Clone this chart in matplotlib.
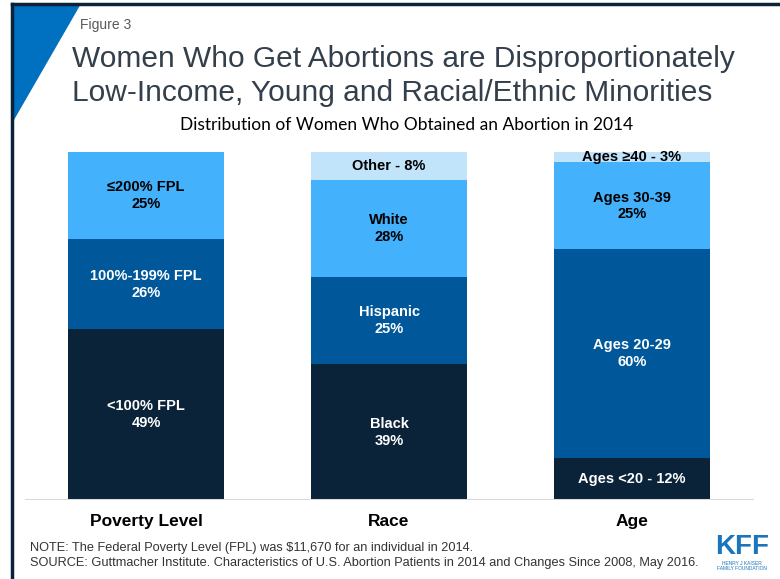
import matplotlib
matplotlib.use("Agg")
from matplotlib import pyplot as plt
from matplotlib.patches import Polygon

plt.rcParams['font.family'] = ['Liberation Sans', 'DejaVu Sans']

# Data
groups = ["Poverty Level", "Race", "Age"]
poverty_labels = ["<100% FPL", "100%-199% FPL", "\u2264200% FPL"]
poverty_values = [49, 26, 25]
race_labels = ["Black", "Hispanic", "White", "Other"]
race_values = [39, 25, 28, 8]
age_labels = ["Ages <20", "Ages 20-29", "Ages 30-39", "Ages \u226540"]
age_values = [12, 60, 25, 3]

dark = "#0a2339"
mid = "#00589a"
light = "#43b1fb"
pale = "#c2e4fb"

stacks = [
    (poverty_labels, poverty_values, [dark, mid, light], [False, False, False]),
    (race_labels, race_values, [dark, mid, light, pale], [False, False, False, True]),
    (age_labels, age_values, [dark, mid, light, pale], [True, False, False, True]),
]

W, H = 780, 579
fig = plt.figure(figsize=(7.8, 5.79), dpi=100)

# frame and corner triangle
fig.add_artist(plt.Line2D([12 / W, 1], [1 - 4 / H, 1 - 4 / H], color=dark, lw=2.5))
fig.add_artist(plt.Line2D([12 / W, 12 / W], [0, 1 - 4 / H], color=dark, lw=2.5))
fig.add_artist(Polygon([[12 / W, 1 - 4 / H], [80 / W, 1 - 4 / H], [12 / W, 1 - 122 / H]],
                       closed=True, color="#0070c0", transform=fig.transFigure))

fig.text(80 / W, 1 - 25 / H, "Figure 3", fontsize=10, color="#595959", va="center")
fig.text(72 / W, 1 - 76 / H,
         "Women Who Get Abortions are Disproportionately\nLow-Income, Young and Racial/Ethnic Minorities",
         fontsize=21.5, color="#333f4b", va="center", linespacing=1.25)
fig.text(407 / W, 1 - 125 / H, "Distribution of Women Who Obtained an Abortion in 2014",
         fontsize=12.5, ha="center", va="center", family=["Lato", "DejaVu Sans"])

# bar chart
ax = fig.add_axes([24.5 / W, 1 - 500 / H, 729 / W, 348 / H])
bar_w = 156 / 243
for i, (labels, values, colors, single) in enumerate(stacks):
    bottom = 0
    for lab, val, col, one in zip(labels, values, colors, single):
        ax.bar(i, val, bottom=bottom, width=bar_w, color=col, linewidth=0)
        tcol = "black" if col in (light, pale) else "white"
        txt = f"{lab} - {val}%" if one else f"{lab}\n{val}%"
        ax.text(i, bottom + val / 2, txt, ha="center", va="center", color=tcol,
                fontsize=10.5, fontweight="bold", linespacing=1.25)
        bottom += val

ax.set_xlim(-0.5, 2.5)
ax.set_ylim(0, 100)
ax.axhline(0, color="#d9d9d9", lw=1.5)
for s in ax.spines.values():
    s.set_visible(False)
ax.set_yticks([])
ax.set_xticks(range(3))
ax.set_xticklabels(groups, fontsize=12.5, fontweight="bold")
ax.tick_params(axis="x", length=0, pad=10)

# notes
fig.text(30 / W, 1 - 548 / H, "NOTE: The Federal Poverty Level (FPL) was $11,670 for an individual in 2014.",
         fontsize=9.15, color="#333333", va="center")
fig.text(30 / W, 1 - 563 / H,
         "SOURCE: Guttmacher Institute. Characteristics of U.S. Abortion Patients in 2014 and Changes Since 2008, May 2016.",
         fontsize=9.15, color="#333333", va="center")

# logo
fig.text(742 / W, 1 - 547 / H, "KFF", fontsize=20, fontweight="bold", color="#1a75bc",
         ha="center", va="center")
fig.text(742 / W, 1 - 566 / H, "HENRY J KAISER\nFAMILY FOUNDATION", fontsize=3.5,
         color="#1a75bc", ha="center", va="center", linespacing=1.0)

fig.savefig("out.png", dpi=100, facecolor="white")
